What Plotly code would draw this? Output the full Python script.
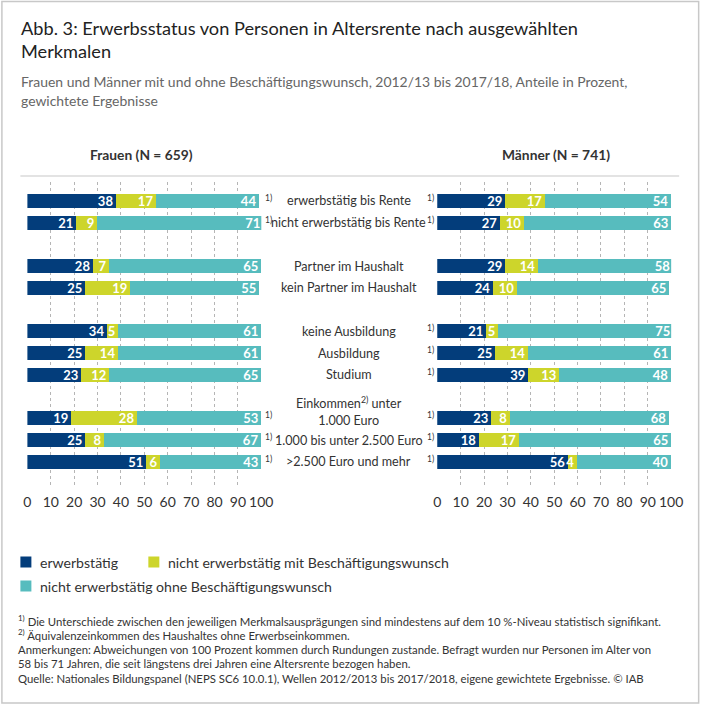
import plotly.graph_objects as go

# ---------------- data ----------------
categories = [
    "erwerbstätig bis Rente",
    "nicht erwerbstätig bis Rente",
    "Partner im Haushalt",
    "kein Partner im Haushalt",
    "keine Ausbildung",
    "Ausbildung",
    "Studium",
    "Einkommen<sup>2)</sup> unter<br>1.000 Euro",
    "1.000 bis unter 2.500 Euro",
    ">2.500 Euro und mehr",
]
groups = [2, 2, 3, 3]  # number of categories per block

series_names = [
    "erwerbstätig",
    "nicht erwerbstätig mit Beschäftigungswunsch",
    "nicht erwerbstätig ohne Beschäftigungswunsch",
]

frauen_erw = [38, 21, 28, 25, 34, 25, 23, 19, 25, 51]
frauen_mit = [17, 9, 7, 19, 5, 14, 12, 28, 8, 6]
frauen_ohne = [44, 71, 65, 55, 61, 61, 65, 53, 67, 43]

maenner_erw = [29, 27, 29, 24, 21, 25, 39, 23, 18, 56]
maenner_mit = [17, 10, 14, 10, 5, 14, 13, 8, 17, 4]
maenner_ohne = [54, 63, 58, 65, 75, 61, 48, 68, 65, 40]

sig_frauen = [True, True, False, False, False, False, False, True, True, True]
sig_maenner = [True, True, False, False, True, True, True, True, True, True]

panel_titles = ["Frauen (N = 659)", "Männer (N = 741)"]
x_ticks = [0, 10, 20, 30, 40, 50, 60, 70, 80, 90, 100]

title_lines = ["Abb. 3: Erwerbsstatus von Personen in Altersrente nach ausgewählten", "Merkmalen"]
subtitle_lines = ["Frauen und Männer mit und ohne Beschäftigungswunsch, 2012/13 bis 2017/18, Anteile in Prozent,",
                  "gewichtete Ergebnisse"]
footnotes = [
    "<sup>1)</sup> Die Unterschiede zwischen den jeweiligen Merkmalsausprägungen sind mindestens auf dem 10 %-Niveau statistisch signifikant.",
    "<sup>2)</sup> Äquivalenzeinkommen des Haushaltes ohne Erwerbseinkommen.",
    "Anmerkungen: Abweichungen von 100 Prozent kommen durch Rundungen zustande. Befragt wurden nur Personen im Alter von",
    "58 bis 71 Jahren, die seit längstens drei Jahren eine Altersrente bezogen haben.",
    "Quelle: Nationales Bildungspanel (NEPS SC6 10.0.1), Wellen 2012/2013 bis 2017/2018, eigene gewichtete Ergebnisse. © IAB",
]

# ---------------- styles ----------------
W, H = 716, 705
HS, HO = 0.978, 3.6   # horizontal compensation for the viewer
FONT = "Lato"
colors = ["#033d7b", "#cdd52b", "#57bcbe"]
TXT = "#333333"


def X(px):
    return ((px - HO) / HS) / W


def Y(py):
    return 1 - py / H


# category order with spacer rows between blocks
cat_order = []
idx = 0
for gi, n in enumerate(groups):
    cat_order.extend(categories[idx:idx + n])
    idx += n
    if gi < len(groups) - 1:
        cat_order.append(" " * (gi + 1))

fig = go.Figure()

panels = [
    ("x", "y", [frauen_erw, frauen_mit, frauen_ohne]),
    ("x2", "y2", [maenner_erw, maenner_mit, maenner_ohne]),
]
for xa, ya, vals in panels:
    for name, col, v in zip(series_names, colors, vals):
        fig.add_trace(go.Bar(
            y=categories, x=v, orientation="h", name=name,
            marker=dict(color=col, line=dict(width=0)),
            text=[str(a) for a in v], textposition="inside",
            insidetextanchor="end", textangle=0, constraintext="none",
            textfont=dict(family=FONT, size=13, color="white", weight=700),
            width=0.64, xaxis=xa, yaxis=ya, showlegend=False,
            hoverinfo="skip",
        ))

y_dom = [Y(485), Y(182)]
yrange = [len(cat_order) - 1 + 1.06, -0.87]
axis_common = dict(range=[0, 100], tickvals=x_ticks, showgrid=True,
                   gridcolor="#b5b5b5", griddash="dot", gridwidth=1,
                   zeroline=False, showline=False, ticks="",
                   ticklabelstandoff=7,
                   tickfont=dict(family=FONT, size=14, color=TXT))
yaxis_common = dict(type="category", categoryorder="array", categoryarray=cat_order,
                    range=yrange, showticklabels=False, showgrid=False,
                    zeroline=False, domain=y_dom)

fig.update_layout(
    width=W, height=H, margin=dict(l=0, r=0, t=0, b=0),
    paper_bgcolor="white", plot_bgcolor="white",
    barmode="stack", bargap=0,
    xaxis=dict(domain=[X(27), X(261)], anchor="y", **axis_common),
    xaxis2=dict(domain=[X(437), X(671)], anchor="y2", **axis_common),
    yaxis=dict(anchor="x", **yaxis_common),
    yaxis2=dict(anchor="x2", **yaxis_common),
    font=dict(family=FONT, color=TXT),
)

ann = []
# titles
for i, t in enumerate(title_lines):
    ann.append(dict(text=t, x=X(19), y=Y(28 + 23 * i), xref="paper", yref="paper",
                    xanchor="left", yanchor="middle", showarrow=False,
                    font=dict(family=FONT, size=18.2, color="#222222")))
for i, t in enumerate(subtitle_lines):
    ann.append(dict(text=t, x=X(19), y=Y(81 + 19.5 * i), xref="paper", yref="paper",
                    xanchor="left", yanchor="middle", showarrow=False,
                    font=dict(family=FONT, size=13.95, color="#666666")))
# panel headers
for t, cx in zip(panel_titles, [141, 556]):
    ann.append(dict(text=t, x=X(cx), y=Y(154), xref="paper", yref="paper",
                    xanchor="center", yanchor="middle", showarrow=False,
                    font=dict(family=FONT, size=13.8, color=TXT, weight=700)))
# category labels (centered between panels)
for c in categories:
    two = "<br>" in c
    ann.append(dict(text=c, x=X(348.5), y=c, xref="paper", yref="y",
                    xanchor="center", yanchor="middle", showarrow=False,
                    yshift=7 if two else 0,
                    font=dict(family=FONT, size=12.6, color=TXT)))
# significance markers
for c, sf, sm in zip(categories, sig_frauen, sig_maenner):
    if sf:
        ann.append(dict(text="1)", x=X(263), y=c, xref="paper", yref="y",
                        xanchor="left", yanchor="middle", showarrow=False, yshift=3,
                        font=dict(family=FONT, size=8.5, color=TXT)))
    if sm:
        ann.append(dict(text="1)", x=X(435.5), y=c, xref="paper", yref="y",
                        xanchor="right", yanchor="middle", showarrow=False, yshift=3,
                        font=dict(family=FONT, size=8.5, color=TXT)))
# legend (manual)
legend_pos = [(20, 562), (148, 562), (20, 586)]
shapes = []
for name, col, (lx, ly) in zip(series_names, colors, legend_pos):
    shapes.append(dict(type="rect", xref="paper", yref="paper",
                       x0=X(lx), x1=X(lx + 11), y0=Y(ly + 5.5), y1=Y(ly - 5.5),
                       fillcolor=col, line=dict(width=0)))
    ann.append(dict(text=name, x=X(lx + 18), y=Y(ly), xref="paper", yref="paper",
                    xanchor="left", yanchor="middle", showarrow=False,
                    font=dict(family=FONT, size=14.1, color=TXT)))
# footnotes
for i, t in enumerate(footnotes):
    ann.append(dict(text=t, x=X(16), y=Y(620 + 14.5 * i), xref="paper", yref="paper",
                    xanchor="left", yanchor="middle", showarrow=False,
                    font=dict(family=FONT, size=11.35, color=TXT)))

# header rule and frame
shapes.append(dict(type="line", xref="paper", yref="paper", x0=X(20), x1=X(679),
                   y0=Y(176), y1=Y(176), line=dict(color="#c8c8c8", width=1.2)))
shapes.append(dict(type="rect", xref="paper", yref="paper", x0=X(1.5), x1=X(698.5),
                   y0=Y(703), y1=Y(1.5), line=dict(color="#c8c8c8", width=1.5),
                   fillcolor="rgba(0,0,0,0)"))

fig.update_layout(annotations=ann, shapes=shapes)
fig.write_html("out.html", config={"displayModeBar": False},
               post_script="document.body.style.margin='0';document.body.style.overflow='hidden';")
